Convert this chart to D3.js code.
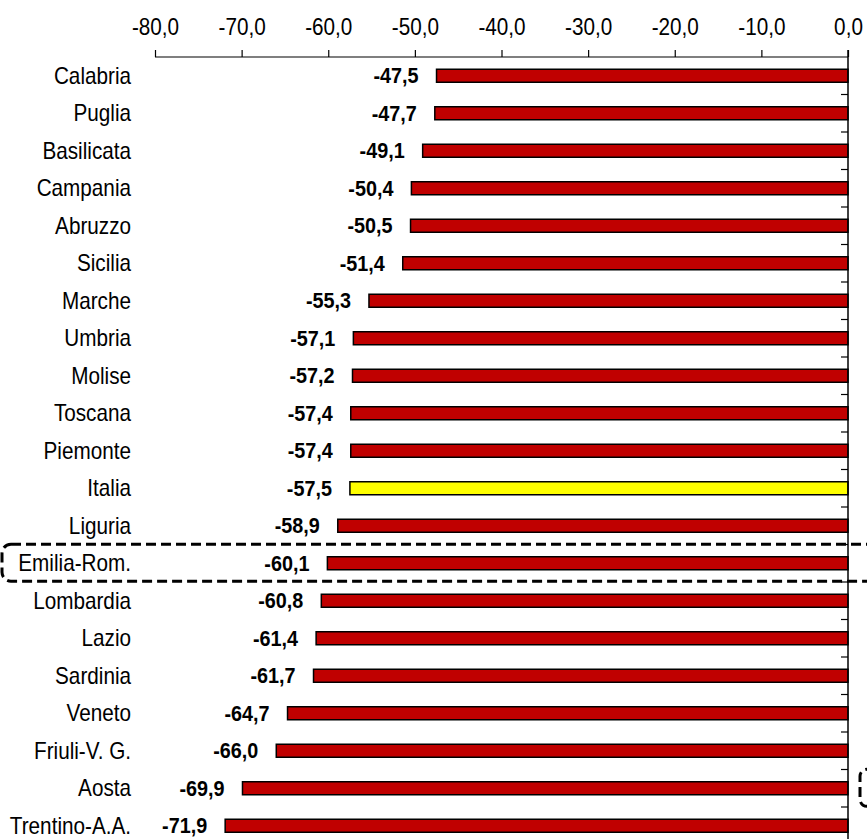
<!DOCTYPE html>
<html>
<head>
<meta charset="utf-8">
<script src="https://cdn.jsdelivr.net/npm/d3@7"></script>
<style>
  html, body { margin: 0; padding: 0; background: #fff; }
  svg { display: block; }
  text { font-family: "Liberation Sans", Arial, sans-serif; }
</style>
</head>
<body>
<svg id="chart" width="867" height="839"></svg>
<script>
const regions = ["Calabria","Puglia","Basilicata","Campania","Abruzzo","Sicilia","Marche","Umbria","Molise","Toscana","Piemonte","Italia","Liguria","Emilia-Rom.","Lombardia","Lazio","Sardinia","Veneto","Friuli-V. G.","Aosta","Trentino-A.A."];
const values = [-47.5,-47.7,-49.1,-50.4,-50.5,-51.4,-55.3,-57.1,-57.2,-57.4,-57.4,-57.5,-58.9,-60.1,-60.8,-61.4,-61.7,-64.7,-66.0,-69.9,-71.9];
const tickValues = [-80,-70,-60,-50,-40,-30,-20,-10,0];
const highlight = "Italia";
const boxedRegion = "Emilia-Rom.";
const partialBoxRegion = "Aosta";

const data = regions.map((r, i) => ({ region: r, value: values[i] }));
const fmt = v => d3.format(".1f")(v).replace(".", ",").replace("−", "-");
const SX = 0.9;

const svg = d3.select("#chart");
const x = d3.scaleLinear().domain([-80, 0]).range([155, 848]);
const y = d3.scaleBand().domain(regions).range([57, 57 + 37.5 * regions.length]).paddingInner(0).paddingOuter(0);
const barH = 13;

// top axis
const axisG = svg.append("g").attr("transform", "translate(0,57)")
  .call(d3.axisTop(x).tickValues(tickValues).tickSize(7).tickPadding(15).tickFormat(fmt));
axisG.select(".domain").attr("d", `M${x(-80)},0H${x(0)}`).attr("stroke", "#000").attr("stroke-width", 1.2);
axisG.selectAll(".tick line").attr("stroke", "#000").attr("stroke-width", 1.2);
axisG.selectAll(".tick text").attr("font-size", 23).attr("fill", "#000")
  .attr("font-family", "'Liberation Sans', Arial, sans-serif")
  .attr("transform", `scale(${SX},1)`);

// bars
svg.append("g").selectAll("rect").data(data).join("rect")
  .attr("x", d => x(d.value))
  .attr("y", d => y(d.region) + y.bandwidth() / 2 - barH / 2)
  .attr("width", d => x(0) - x(d.value))
  .attr("height", barH)
  .attr("fill", d => d.region === highlight ? "#FFFF00" : "#C00000")
  .attr("stroke", "#000").attr("stroke-width", 1.5);

// zero axis with inner ticks between rows
const zeroG = svg.append("g").attr("transform", `translate(${x(0)},0)`);
zeroG.append("line").attr("x1", 0).attr("x2", 0).attr("y1", 50).attr("y2", 839)
  .attr("stroke", "#000").attr("stroke-width", 1.5);
zeroG.selectAll("line.tk").data(regions.slice(1)).join("line").attr("class", "tk")
  .attr("x1", -7).attr("x2", 0)
  .attr("y1", d => y(d)).attr("y2", d => y(d))
  .attr("stroke", "#000").attr("stroke-width", 1.2);

// category labels
svg.append("g").selectAll("text").data(data).join("text")
  .attr("transform", d => `translate(131,${y(d.region) + y.bandwidth() / 2}) scale(${SX},1)`)
  .attr("dy", "0.34em")
  .attr("text-anchor", "end")
  .attr("font-size", 23)
  .attr("fill", "#000")
  .text(d => d.region);

// value labels
svg.append("g").selectAll("text").data(data).join("text")
  .attr("transform", d => `translate(${x(d.value) - 18},${y(d.region) + y.bandwidth() / 2}) scale(${SX},1)`)
  .attr("dy", "0.35em")
  .attr("text-anchor", "end")
  .attr("font-size", 22)
  .attr("font-weight", "bold")
  .attr("fill", "#000")
  .text(d => fmt(d.value));

// dashed highlight boxes
const cy1 = y(boxedRegion) + y.bandwidth() / 2;
svg.append("rect")
  .attr("x", 2).attr("y", cy1 - 19).attr("width", 920).attr("height", 37)
  .attr("rx", 9).attr("fill", "none").attr("stroke", "#000")
  .attr("stroke-width", 3).attr("stroke-dasharray", "10,5");
const cy2 = y(partialBoxRegion) + y.bandwidth() / 2;
svg.append("rect")
  .attr("x", 860).attr("y", cy2 - 19).attr("width", 120).attr("height", 37)
  .attr("rx", 7).attr("fill", "none").attr("stroke", "#000")
  .attr("stroke-width", 3).attr("stroke-dasharray", "10,5");
</script>
</body>
</html>
